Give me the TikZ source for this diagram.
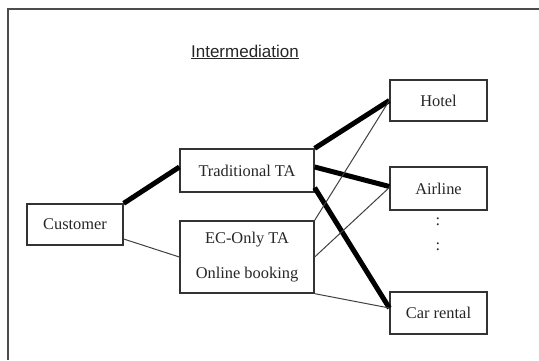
\documentclass[tikz,border=0pt]{standalone}
\usepackage{fontspec}
\setmainfont{Liberation Serif}
\newfontfamily\headfont{Liberation Sans}
\begin{document}
\begin{tikzpicture}[x=1pt,y=-1pt,
  box/.style={draw=black!80, line width=1.3pt, rectangle, inner sep=0pt,
              font=\fontsize{16.4}{19}\selectfont, text=black!85},
  heavy/.style={line width=5pt, black},
  light/.style={line width=1pt, black!75},
  frame/.style={line width=2pt, black!70}]
  \useasboundingbox (0,0) rectangle (539,360);
  % open frame along the top and left edges
  \coordinate (fbl) at (8,360);
  \coordinate (ftl) at (8,9);
  \coordinate (ftr) at (539,9);
  \draw[frame] (fbl) -- (ftl) -- (ftr);

  \node[font=\headfont\fontsize{17}{20}\selectfont, text=black!85] (title) at (245,52)
    {\underline{Intermediation}};

  \node[box, minimum width=96pt, minimum height=41pt] (cust) at (75,224.5) {Customer};
  \node[box, minimum width=134pt, minimum height=43pt] (tta) at (247,170.5) {Traditional TA};
  \node[box, minimum width=134pt, minimum height=72pt, align=center,
        font=\fontsize{16.4}{35}\selectfont] (ecta) at (247,257)
        {EC-Only TA\\Online booking};
  \node[box, minimum width=97pt, minimum height=41pt] (hotel) at (438.5,100.5) {Hotel};
  \node[box, minimum width=97pt, minimum height=43pt] (air) at (438.5,188.5) {Airline};
  \node[box, minimum width=97pt, minimum height=42pt] (car) at (438.5,313) {Car rental};
  \node[font=\fontsize{16.4}{19}\selectfont, text=black!85] (dotA) at (438,222) {:};
  \node[font=\fontsize{16.4}{19}\selectfont, text=black!85] (dotB) at (438,247) {:};

  % traditional channel
  \draw[heavy] (cust.north east) -- ([yshift=3.5pt]tta.west);
  \draw[heavy] (tta.north east) -- (hotel.west);
  \draw[heavy] ([yshift=3.5pt]tta.east) -- ([yshift=2pt]air.west);
  \draw[heavy] ([yshift=5pt]tta.south east) -- ([yshift=5pt]car.west);

  % electronic channel
  \draw[light] ([yshift=-14.5pt]cust.east) -- (ecta.west);
  \draw[light] (ecta.north east) -- (hotel.west);
  \draw[light] (ecta.east) -- ([yshift=1pt]air.west);
  \draw[light] (ecta.south east) -- ([yshift=5pt]car.west);
\end{tikzpicture}
\end{document}
